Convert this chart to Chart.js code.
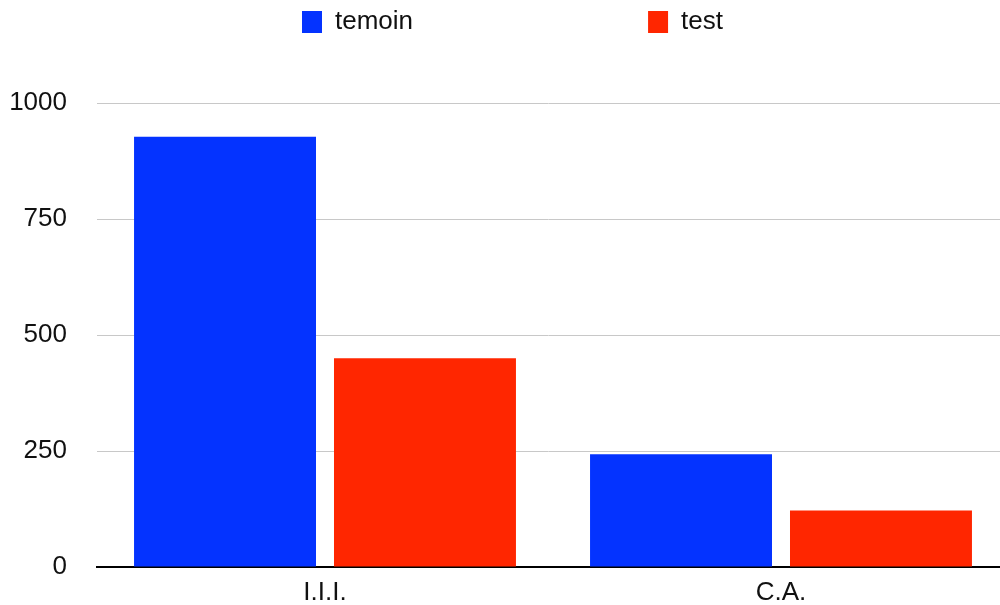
<!DOCTYPE html>
<html>
<head>
<meta charset="utf-8">
<script src="https://cdn.jsdelivr.net/npm/chart.js@4/dist/chart.umd.min.js"></script>
<style>
  html, body { margin: 0; padding: 0; background: #fff; overflow: hidden; }
  #bar { display: block; }
</style>
</head>
<body>
<canvas id="bar" width="1000" height="605"></canvas>
<script>
var categories = ['I.I.I.', 'C.A.'];
var temoin = [927, 243];
var test = [450, 122];
var yTicks = [0, 250, 500, 750, 1000];

var BLUE = '#0433ff',
    RED = '#ff2600',
    FONT = '"Liberation Sans", Arial, Helvetica, sans-serif',
    LEGEND_PAD = 235; // horizontal gap between the two legend items

// legend uses its padding both ways: pull it back up and nudge it right.
// the original plot runs a little past the right edge of the picture.
var layoutNudge = {
    id: 'layoutNudge',
    afterLayout: function(chart) {
        var lg = chart.legend;
        lg.top = 9 - LEGEND_PAD;
        lg.left += 15;
        var x = chart.scales.x;
        x.right += 9;
        x.width += 9;
        x.configure();
    }
};

var ctx = document.getElementById('bar').getContext('2d');
var chart = new Chart(ctx, {
    type: 'bar',
    data: {
        labels: categories,
        datasets: [{
            label: 'temoin',
            backgroundColor: BLUE,
            data: temoin
        }, {
            label: 'test',
            backgroundColor: RED,
            data: test
        }]
    },
    plugins: [layoutNudge],
    options: {
        responsive: false,
        animation: false,
        devicePixelRatio: 1,
        categoryPercentage: 0.877,
        barPercentage: 0.91,
        layout: {
            padding: { left: 10, right: 0, top: 0, bottom: 0 }
        },
        plugins: {
            tooltip: { enabled: false },
            legend: {
                position: 'top',
                maxHeight: 103,
                labels: {
                    boxWidth: 20,
                    boxHeight: 22,
                    padding: LEGEND_PAD,
                    color: '#111',
                    font: { family: FONT, size: 26 }
                }
            }
        },
        scales: {
            x: {
                afterFit: function(scale) {
                    scale.height = 38;
                },
                grid: { display: false, drawTicks: false },
                border: { display: true, color: '#000', width: 2 },
                ticks: {
                    padding: 10,
                    color: '#111',
                    font: { family: FONT, size: 26 }
                }
            },
            y: {
                min: 0,
                max: 1000,
                afterBuildTicks: function(scale) {
                    scale.ticks = yTicks.map(function(v) { return { value: v }; });
                },
                afterFit: function(scale) {
                    scale.width = 87;
                    scale.paddingTop = 0;
                    scale.paddingBottom = 0;
                },
                grid: { color: '#c8c8c8', lineWidth: 1, drawTicks: false },
                border: { display: false },
                ticks: {
                    padding: 30,
                    color: '#111',
                    font: { family: FONT, size: 26 },
                    callback: function(v) { return String(v); }
                }
            }
        }
    }
});
</script>
</body>
</html>
